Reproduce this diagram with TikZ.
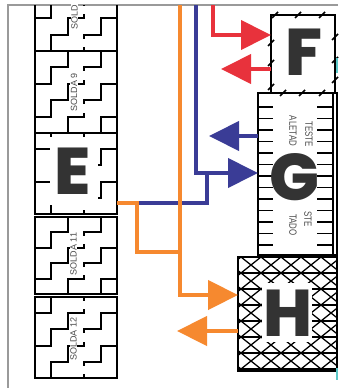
\documentclass[tikz,border=0pt]{standalone}
\usepackage{fontspec}
\setmainfont{Liberation Sans}
\newfontfamily\bigfont{Poppins}[BoldFont={Poppins ExtraBold}]
\newfontfamily\condfont[FakeStretch=0.75]{Liberation Sans}
\usetikzlibrary{arrows.meta,calc}
\definecolor{ored}{HTML}{E8323C}
\definecolor{oblue}{HTML}{3A3C96}
\definecolor{oorange}{HTML}{F6892F}
\definecolor{ink}{HTML}{333333}
\definecolor{framegray}{HTML}{9A9A9A}
\definecolor{tealmark}{HTML}{5CC8C8}
\definecolor{labelgray}{HTML}{4A4A4A}

\newcommand{\stairblock}[3]{%
  \begin{scope}
    \clip (35,{max(#1,5)}) rectangle (117,#2);
    \pgfmathsetmacro{\stU}{(#2-#1)/5}
    \foreach \kk in {-3,...,6}{
      \pgfmathsetmacro{\stS}{2*\kk+#3}
      \foreach \ii in {1,2,4}{
        \draw[pat] ({35+\ii*16.4},{#1+(\stS-\ii)*\stU}) -- ++(0,\stU);
      }
      \foreach \ii in {1,...,5}{
        \draw[pat] ({35+(\ii-1)*16.4},{#1+(\stS-\ii+1)*\stU}) -- ++(16.4,0);
      }
      \draw[pat] ({35+3*16.4},{#1+(\stS-3)*\stU}) -- ++(0,3);
      \draw[pat] ({35+3*16.4},{#1+(\stS-2)*\stU}) -- ++(0,-3);
    }
  \end{scope}
}

\begin{document}
\begin{tikzpicture}[x=1pt,y=-1pt,
  blk/.style={draw=black, line width=1.8pt, inner sep=0pt, outer sep=0pt},
  pat/.style={black, line width=2pt, line cap=rect},
  lat/.style={black, line width=1.3pt},
  tick/.style={black, line width=1.5pt},
  bigletter/.style={font=\bigfont\bfseries\fontsize{66}{66}\selectfont, text=ink, inner sep=0pt},
  solda/.style={font=\fontsize{9}{9}\selectfont, text=labelgray, rotate=90, inner sep=0.6pt, fill=white},
  gtext/.style={font=\condfont\fontsize{10.5}{10.5}\selectfont, text=labelgray, rotate=-90, inner sep=0pt},
  wire/.style={line width=4pt, line join=miter},
  bigtip/.style={-{Triangle[length=30pt,width=29pt]}},
  framel/.style={framegray, line width=1.2pt}]
\useasboundingbox (0,0) rectangle (338,388);

% frame
\draw[framel] (338,5) -- (8,5) -- (8,388);

% left column blocks
\stairblock{-31}{51}{1}
\stairblock{51}{133}{0}
\stairblock{133}{214}{1}
\stairblock{217}{294}{0}
\stairblock{297}{378}{1}
\draw[blk] (35,5) -- (35,51) -- (117,51) -- (117,5);
\node[blk, minimum width=82pt, minimum height=82pt] (B2) at (76,92) {};
\node[blk, minimum width=82pt, minimum height=81pt] (E) at (76,173.5) {};
\node[blk, minimum width=82pt, minimum height=77pt] (B4) at (76,255.5) {};
\node[blk, minimum width=82pt, minimum height=81pt] (B5) at (76,337.5) {};
\fill[white] (50,137) rectangle (98,205);
\node[bigletter] (Eltr) at (72.5,171) {E};

\node[solda] (s1) at (74.5,17) {SOLD};
\node[solda] (s2) at (74,92) {SOLDA 9};
\node[solda] (s4) at (73.5,254) {SOLDA 11};
\node[solda] (s5) at (73.5,339) {SOLDA 12};

% F box
\node[blk, minimum width=64pt, minimum height=78pt] (F) at (303,54) {};
\foreach \xx in {275,298,322} \draw[tick] (\xx-3,18) -- (\xx+3,12);
\foreach \xx in {283,302,322} \draw[tick] (\xx-3,96) -- (\xx+3,90);
\foreach \yy in {43,63,87} \draw[tick] (268,\yy+3) -- (274,\yy-3);
\foreach \yy in {37,60,80} \draw[tick] (332,\yy+3) -- (338,\yy-3);
\node[bigletter] (Fltr) at (304.5,52.5) {F};
\fill[tealmark] (336,58) rectangle (338,73);

% G box
\node[blk, minimum width=79pt, minimum height=162pt] (G) at (297.5,174) {};
\draw[blk] (333,93) -- (333,255);
\foreach \yy in {107,118.5,...,250} {
  \draw[tick] (258,\yy) -- (273,\yy);
  \draw[tick] (317,\yy) -- (333,\yy);
}
\node[gtext] (t1) at (309,134) {TESTE};
\node[gtext] (t2) at (293,131) {ALETAD};
\node[gtext] (t3) at (308,219) {STE};
\node[gtext] (t4) at (293,225) {TADO};
\node[bigletter] (Gltr) at (294,177) {G};

% H box
\begin{scope}
  \clip (238,257) rectangle (337,371);
  \foreach \yy in {257,273,...,369} \draw[lat] (238,\yy) -- (337,\yy);
  \foreach \kk in {-10,...,14} {
    \draw[lat] ({241+20*\kk-200},113) -- ({241+20*\kk+200},433);
    \draw[lat] ({241+20*\kk-200},433) -- ({241+20*\kk+200},113);
  }
\end{scope}
\node[blk, minimum width=99pt, minimum height=114pt] (H) at (287.5,314) {};
\fill[white] (262,283) rectangle (312,342);
\node[bigletter] (Hltr) at (288,313) {H};
\fill[tealmark] (336,368) rectangle (338,380);

% connectors
\coordinate (rtop) at (213,5);
\coordinate (rin) at (0,35);
\coordinate (rtip) at (221,69);
\coordinate (btop) at (196,5);
\coordinate (bin) at (0,173);
\coordinate (bj) at (207,173);
\coordinate (bk) at (139,203);
\coordinate (btip) at (209,136);
\coordinate (otop) at (180,5);
\coordinate (oin) at (0,295);
\coordinate (oa) at (137,203);
\coordinate (ob) at (180,252);
\coordinate (otip) at (177,331);

\draw[wire, ored, bigtip] (rtop) |- (F.west |- rin);
\draw[wire, ored, bigtip] (F.west |- rtip) -- (rtip);

\draw[wire, oblue, bigtip] (btop) |- (G.west |- bin);
\draw[wire, oblue] (bj) |- (bk);
\draw[wire, oblue, bigtip] (G.west |- btip) -- (btip);

\draw[wire, oorange, line width=4.5pt] (E.east |- oa) -- (oa) |- (ob);
\draw[wire, oorange, line width=4.5pt, bigtip] (otop) |- (H.west |- oin);
\draw[wire, oorange, line width=4.5pt, bigtip] (H.west |- otip) -- (otip);
\end{tikzpicture}
\end{document}
